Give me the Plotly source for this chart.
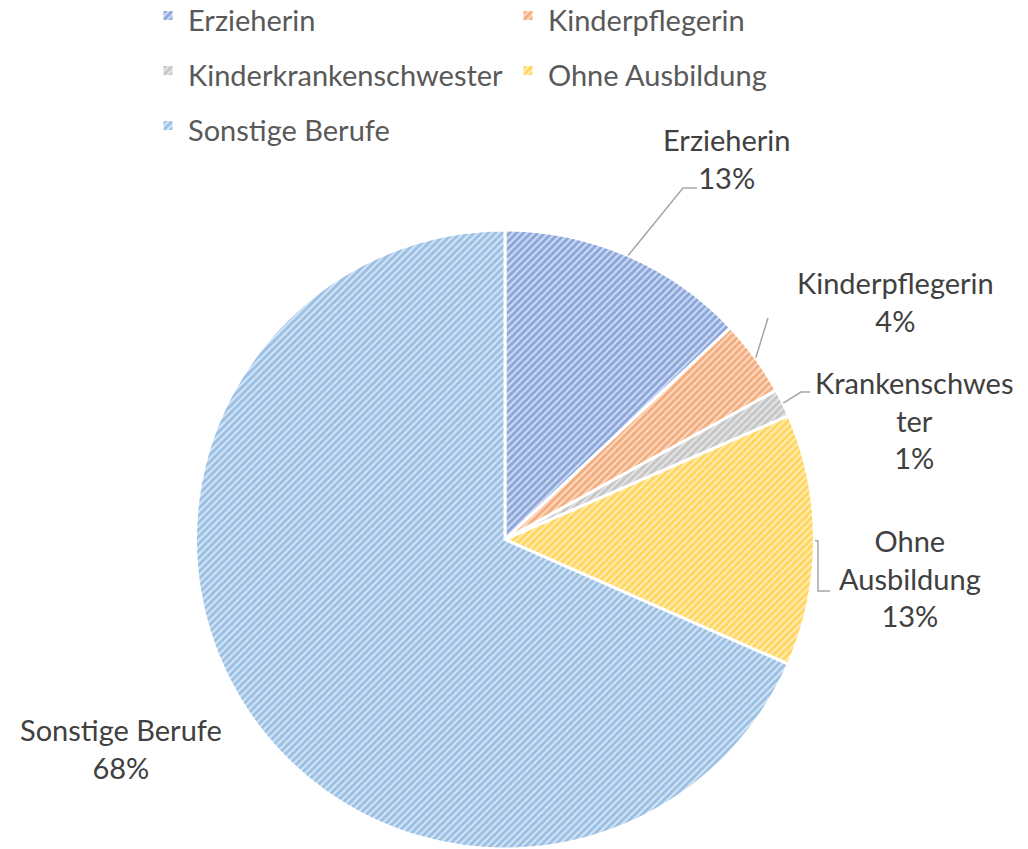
import math
import plotly.graph_objects as go

# ---- data ----
categories = ["Erzieherin", "Kinderpflegerin", "Kinderkrankenschwester",
              "Ohne Ausbildung", "Sonstige Berufe"]
values = [13.0, 4.0, 1.45, 13.15, 68.4]
label_names = ["Erzieherin", "Kinderpflegerin", "Krankenschwes<br>ter",
               "Ohne<br>Ausbildung", "Sonstige Berufe"]

# ---- styling ----
fg_colors = ["#4472C4", "#ED7D31", "#A5A5A5", "#FFC000", "#5B9BD5"]
bg_colors = ["#D3DDF2", "#FBDCC8", "#E6E6E6", "#FFEDBC", "#D8E6F5"]
FONT = "Lato, Carlito, sans-serif"

OFF = 0                      # page body margin is removed below (post_script)
FW, FH = 1028 - OFF, 849 - OFF
cx, cy, R = 505, 540, 310    # pie centre / radius in page px (layout)

def px2paper(x, y):
    return (x - OFF) / FW, 1 - (y - OFF) / FH

legend_labels = [f'<span style="font-size:29px">{c}</span>' for c in categories]

fig = go.Figure()
fig.add_trace(go.Pie(
    labels=legend_labels,
    values=values,
    sort=False,
    direction="clockwise",
    rotation=0,
    textinfo="none",
    hoverinfo="percent",
    marker=dict(
        colors=bg_colors,
        line=dict(color="white", width=3),
        pattern=dict(shape="/", fgcolor=fg_colors, bgcolor=bg_colors,
                     size=5, solidity=0.6, fillmode="overlay"),
    ),
    domain=dict(x=[(cx - R - OFF) / FW, (cx + R - OFF) / FW],
                y=[max(0.0, 1 - (cy + R - OFF) / FH), 1 - (cy - R - OFF) / FH]),
))

# percentages from the data
total = sum(values)
pcts = [round(v / total * 100) for v in values]

# mid angles of each slice (clockwise from 12 o'clock)
mids = []
acc = 0.0
for v in values:
    mids.append((acc + v / 2) / total * 360)
    acc += v

def edge_point(i):
    a = math.radians(mids[i])
    return cx + R * math.sin(a), cy - R * math.cos(a)

# label text centres (page px) and leader elbows (page px)
label_pos = [(726, 158), (895, 301), (914, 420), (910, 578), (121, 748)]
leader_paths = [
    [(683, 188), (697, 188)],
    [(768, 318)],
    [(801, 392), (810, 392)],
    [(818, 541), (818, 591), (830, 591)],
    None,
]

annotations = []
for i in range(len(values)):
    x, y = px2paper(*label_pos[i])
    annotations.append(dict(
        x=x, y=y, xref="paper", yref="paper", showarrow=False,
        text=f"{label_names[i]}<br>{pcts[i]}%",
        font=dict(family=FONT, size=29, color="#404040"),
        align="center", xanchor="center", yanchor="middle",
    ))

shapes = []
for i, pts in enumerate(leader_paths):
    if not pts:
        continue
    seq = [edge_point(i)] + pts
    path = "M " + " L ".join(
        "{:.5f},{:.5f}".format(*px2paper(px, py)) for px, py in seq)
    shapes.append(dict(type="path", path=path, xref="paper", yref="paper",
                       line=dict(color="#A6A6A6", width=1.5)))

lx, _ = px2paper(148, 0)
fig.update_layout(
    width=FW, height=FH,
    margin=dict(l=0, r=0, t=0, b=0, autoexpand=False),
    paper_bgcolor="white",
    plot_bgcolor="white",
    font=dict(family=FONT, color="#595959"),
    legend=dict(
        orientation="h",
        x=lx, y=1 + 17 / FH, xanchor="left", yanchor="top",
        entrywidth=315, entrywidthmode="pixels",
        font=dict(size=40, color="#595959", family=FONT),
        traceorder="normal",
    ),
    annotations=annotations,
    shapes=shapes,
)

fig.write_html("out.html",
               config={"displayModeBar": False},
               post_script="document.body.style.margin='0';")
